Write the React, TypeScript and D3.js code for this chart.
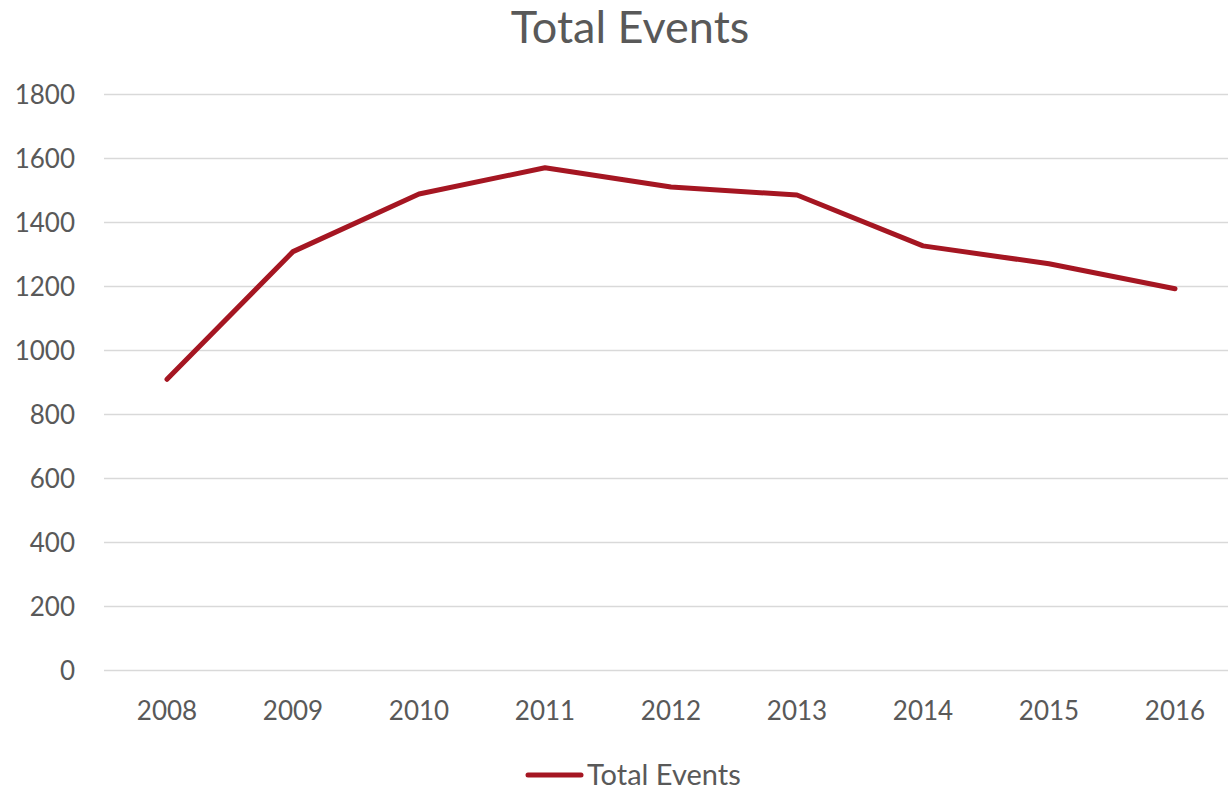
import React from "react";
import * as d3 from "d3";

const years = ["2008", "2009", "2010", "2011", "2012", "2013", "2014", "2015", "2016"];
const totalEvents = [910, 1309, 1489, 1571, 1511, 1486, 1327, 1271, 1193];
const yTicks = [0, 200, 400, 600, 800, 1000, 1200, 1400, 1600, 1800];
const seriesName = "Total Events";
const title = "Total Events";

const W = 1228;
const H = 791;
const FONT = "Lato, 'Open Sans', sans-serif";
const TEXT = "#595959";
const RED = "#A51622";

export default function App() {
  const x = d3.scalePoint<string>().domain(years).range([167, 1175]);
  const y = d3.scaleLinear().domain([0, 1800]).range([670.5, 94.5]);
  const line = d3
    .line<number>()
    .x((_, i) => x(years[i]) as number)
    .y((d) => y(d));

  return (
    <svg width={W} height={H} style={{ position: "absolute", left: 0, top: 0, background: "#fff" }}>
      <rect width={W} height={H} fill="#fff" />
      <text x={630} y={43} textAnchor="middle" fontFamily={FONT} fontSize={45} fill={TEXT}>
        {title}
      </text>
      {yTicks.map((t) => (
        <g key={t}>
          <line x1={104} x2={1228} y1={y(t)} y2={y(t)} stroke="#d9d9d9" strokeWidth={1.5} />
          <text x={75} y={y(t)} dy="0.35em" textAnchor="end" fontFamily={FONT} fontSize={26} fill={TEXT}>
            {t}
          </text>
        </g>
      ))}
      {years.map((yr) => (
        <text key={yr} x={x(yr)} y={720} textAnchor="middle" fontFamily={FONT} fontSize={26} fill={TEXT}>
          {yr}
        </text>
      ))}
      <path d={line(totalEvents) || ""} fill="none" stroke={RED} strokeWidth={5} strokeLinejoin="round" strokeLinecap="round" />
      <line x1={528} x2={581} y1={775} y2={775} stroke={RED} strokeWidth={5} strokeLinecap="round" />
      <text x={587} y={785} fontFamily={FONT} fontSize={29} fill={TEXT}>
        {seriesName}
      </text>
    </svg>
  );
}
